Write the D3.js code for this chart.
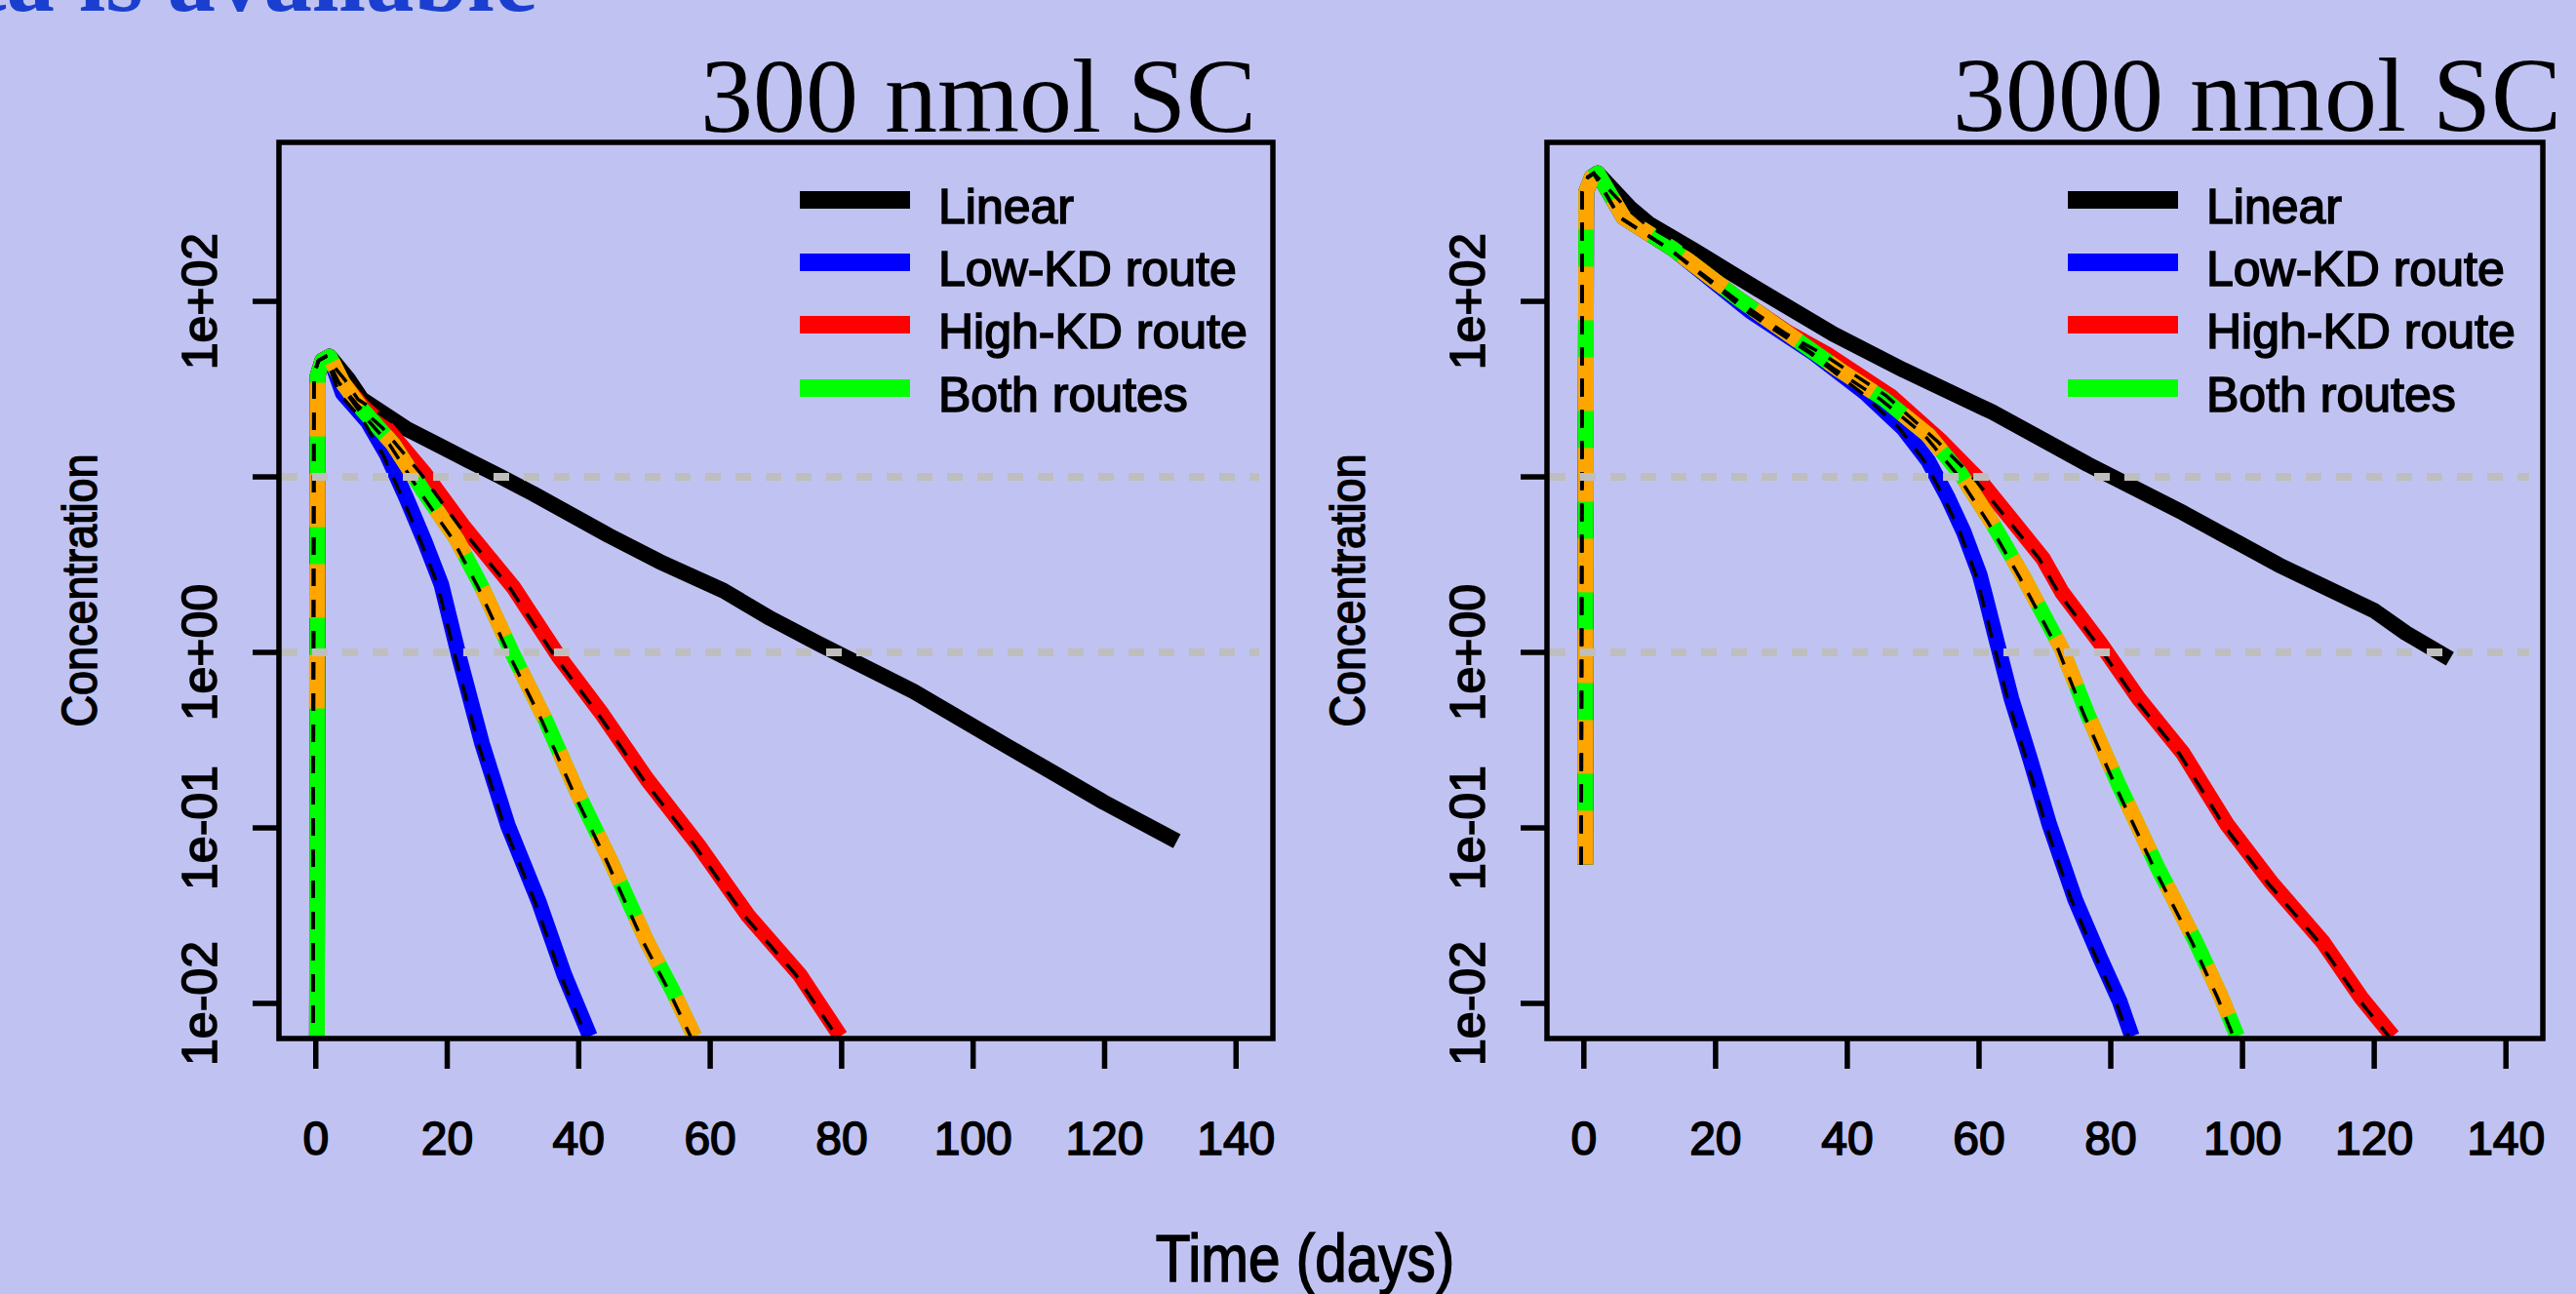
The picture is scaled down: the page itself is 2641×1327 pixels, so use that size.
<!DOCTYPE html>
<html><head><meta charset="utf-8">
<script src="https://cdn.jsdelivr.net/npm/d3@7"></script>
<style>html,body{margin:0;padding:0;background:#c0c3f2;overflow:hidden}</style>
</head><body><svg id="c" width="2641" height="1327"></svg>
<script>
// ---------------- data ----------------
const seriesNames = ["Linear", "Low-KD route", "High-KD route", "Both routes"];
const seriesColors = ["#000000", "#0000ff", "#ff0000", "#00ff00"];
const xTicks = [0, 20, 40, 60, 80, 100, 120, 140];
const yTicks = [0.01, 0.1, 1, 10, 100];
const yTickLabels = ["1e-02", "1e-01", "1e+00", "", "1e+02"];
const gridValues = [1, 10];
const panelTitles = ["300 nmol SC", "3000 nmol SC"];
const xAxisTitle = "Time (days)";
const yAxisTitle = "Concentration";
const headerText = "data is available";

// 300 nmol SC  — [time (days), concentration]
const linear300 = [[0.15,0.001],[0.3,38],[1,46],[2.1,48.5],[5,35.8],[7,27.7],[13.7,18.9],[18.5,15.3],[23.4,12.3],[28.2,10],[33,8.05],[44.6,4.63],[52.3,3.29],[62,2.25],[69.2,1.56],[76.5,1.12],[90.9,0.6],[105.4,0.289],[112.2,0.206],[119.9,0.14],[131,0.084]];
const lowKD300 = [[0.15,0.001],[0.3,38],[1,46],[2.1,48.5],[4.1,30],[7.9,20.6],[10.8,13.4],[13.7,7.7],[16.6,4.25],[19.1,2.44],[21.9,0.914],[25.3,0.302],[29.2,0.104],[34,0.0373],[37.8,0.0146],[41.7,0.0065]];
const highKD300 = [[0.15,0.001],[0.3,38],[1,46],[2.1,48.5],[4.1,34.4],[7,25.5],[10.8,18.9],[16.6,10.4],[22.4,5.26],[30.1,2.34],[36.9,0.955],[43.6,0.443],[50.4,0.189],[58.1,0.0805],[65.8,0.0315],[73.6,0.0146],[79.8,0.0065]];
const both300 = [[0.15,0.001],[0.3,38],[1,46],[2.1,48.5],[4.1,34.4],[7,24.4],[11.8,15.3],[16.6,8.05],[21.4,4.43],[25.3,2.34],[30.1,0.955],[35,0.407],[39.8,0.159],[44.6,0.0678],[50.4,0.0224],[54.3,0.0118],[57.6,0.0065]];
const bothAlt300 = [[0.15,0.48],[0.3,38],[1,46],[2.1,48.5],[4.1,34.4],[7,24.4],[11.8,15.3],[16.6,8.05],[21.4,4.43],[25.3,2.34],[30.1,0.955],[35,0.407],[39.8,0.159],[44.6,0.0678],[50.4,0.0224],[54.3,0.0118],[57.6,0.0065]];

// 3000 nmol SC
const linear3000 = [[0.2,0.062],[0.35,420],[1.2,510],[2.1,537],[6.95,343],[9.85,277],[16.6,197],[26.3,118],[37.9,65],[48.5,40.7],[62,23.4],[76.5,11.8],[91,6.24],[105.5,3.15],[113.2,2.29],[120,1.73],[124.8,1.29],[131.5,0.92]];
const lowKD3000 = [[0.2,0.062],[0.35,420],[1.2,510],[2.1,537],[6,302],[13.7,197],[23.4,100],[25.3,87.7],[35,50.4],[42.7,30.2],[48.5,18.9],[52.3,12.3],[55.2,7.7],[57.7,4.83],[60.1,2.77],[61,2.06],[63,1.04],[64.9,0.548],[67.8,0.244],[70.7,0.104],[74.6,0.039],[78.4,0.0181],[81.3,0.0104],[83.2,0.0065]];
const highKD3000 = [[0.2,0.062],[0.35,420],[1.2,510],[2.1,537],[6,302],[13.7,197],[23.4,104],[31.1,66],[36.9,50],[46.5,29],[54.3,15.9],[60.1,9.55],[64.9,5.73],[69.7,3.43],[72.6,2.2],[78.4,1.13],[84.2,0.548],[91,0.265],[97.7,0.104],[104.5,0.0482],[112.2,0.0224],[118,0.0108],[122.8,0.0065]];
const both3000 = [[0.2,0.062],[0.35,420],[1.2,510],[2.1,537],[6,302],[13.7,197],[23.4,104],[31.1,65],[38.8,40.7],[45.6,27.7],[52.3,17.3],[57.2,10.4],[62,5.48],[66.8,2.66],[72.6,1.04],[76.5,0.443],[81.3,0.173],[87.1,0.0597],[92.9,0.0224],[96.8,0.0108],[99.2,0.0065]];
const bothAlt3000 = [[0.2,0.062],[0.35,420],[1.2,510],[2.1,537],[6,302],[13.7,197],[23.4,104],[31.1,65],[38.8,40.7],[45.6,27.7],[52.3,17.3],[57.2,10.4],[62,5.48],[66.8,2.66],[72.6,1.04],[76.5,0.443],[81.3,0.173],[87.1,0.0597],[92.9,0.0224],[96.8,0.0108],[99.2,0.0065]];

const panelsData = [
  {title: panelTitles[0], series: [linear300, lowKD300, highKD300, both300], alt: bothAlt300},
  {title: panelTitles[1], series: [linear3000, lowKD3000, highKD3000, both3000], alt: bothAlt3000}
];

// ---------------- layout ----------------
const svg = d3.select("#c");
const W = 2641, H = 1327;
svg.append("rect").attr("width", W).attr("height", H).attr("fill", "#c0c3f2");

const SANS = "'Liberation Sans', Arial, Helvetica, sans-serif";
const SERIF = "'Liberation Serif', 'Times New Roman', Times, serif";
const TXT_STROKE = 1.6;

svg.append("text").attr("x", 551).attr("y", 11).attr("text-anchor", "end")
  .attr("font-family", SERIF).attr("font-weight", "bold").attr("font-size", 99)
  .attr("fill", "#1a3fd0").text(headerText);

const layouts = [
  {x0: 286, x1: 1305, titleX: 1288, titleY: 135},
  {x0: 1586, x1: 2607, titleX: 2626, titleY: 134}
];
const y0 = 146, y1 = 1065;

const lineW = 16;

function sansText(sel, size) {
  return sel.attr("font-family", SANS).attr("font-size", size).attr("fill", "#000")
    .attr("stroke", "#000").attr("stroke-width", TXT_STROKE);
}

panelsData.forEach((pd, pi) => {
  const L = layouts[pi];
  const x = d3.scaleLinear().domain([-5.6, 145.6]).range([L.x0, L.x1]);
  const y = d3.scaleLog().domain([Math.pow(10, -2.2), Math.pow(10, 2.906)]).range([y1, y0]);
  const g = svg.append("g");

  const clipId = "clip" + pi;
  svg.append("defs").append("clipPath").attr("id", clipId)
    .append("rect").attr("x", L.x0 + 2).attr("y", y0 + 2)
    .attr("width", L.x1 - L.x0 - 4).attr("height", y1 - y0 - 4);

  const line = d3.line().x(d => x(d[0])).y(d => y(Math.max(d[1], 1e-6)));
  const plot = g.append("g").attr("clip-path", `url(#${clipId})`);

  // thick coloured curves
  pd.series.forEach((s, i) => {
    plot.append("path").datum(s).attr("d", line)
      .attr("fill", "none").attr("stroke", seriesColors[i])
      .attr("stroke-width", lineW).attr("stroke-linejoin", "round");
  });
  // orange dashed alternative for both routes
  plot.append("path").datum(pd.alt).attr("d", line)
    .attr("fill", "none").attr("stroke", "#ffa500")
    .attr("stroke-width", lineW).attr("stroke-dasharray", "55,38")
    .attr("stroke-linejoin", "round");
  // thin black dashed overlays
  pd.series.forEach((s, i) => {
    plot.append("path").datum(s).attr("d", line)
      .attr("transform", "translate(-4,0)")
      .attr("fill", "none").attr("stroke", "#000")
      .attr("stroke-width", 3.5).attr("stroke-dasharray", "18,14");
  });

  // grid lines
  g.selectAll(".grid").data(gridValues).enter().append("line")
    .attr("x1", L.x0 + 3).attr("x2", L.x1 - 14)
    .attr("y1", d => y(d)).attr("y2", d => y(d))
    .attr("stroke", "#bebebe").attr("stroke-width", 8).attr("stroke-dasharray", "16,15");

  // box
  g.append("rect").attr("x", L.x0).attr("y", y0).attr("width", L.x1 - L.x0).attr("height", y1 - y0)
    .attr("fill", "none").attr("stroke", "#000").attr("stroke-width", 5.5);

  // y ticks & labels
  g.selectAll(".yt").data(yTicks).enter().append("line")
    .attr("x1", L.x0 - 27).attr("x2", L.x0).attr("y1", d => y(d)).attr("y2", d => y(d))
    .attr("stroke", "#000").attr("stroke-width", 5.5);
  sansText(g.selectAll(".yl").data(yTicks).enter().append("text")
    .attr("transform", d => `translate(${L.x0 - 64},${y(d)}) rotate(-90)`)
    .attr("text-anchor", "middle"), 50).text((d, i) => yTickLabels[i]);

  // x ticks & labels
  g.selectAll(".xt").data(xTicks).enter().append("line")
    .attr("x1", d => x(d)).attr("x2", d => x(d)).attr("y1", y1).attr("y2", y1 + 31)
    .attr("stroke", "#000").attr("stroke-width", 5.5);
  sansText(g.selectAll(".xl").data(xTicks).enter().append("text")
    .attr("x", d => x(d)).attr("y", 1184)
    .attr("text-anchor", "middle"), 48).text(d => d);

  // y axis title
  sansText(g.append("text")
    .attr("transform", `translate(${L.x0 - 187},${(y0 + y1) / 2}) rotate(-90) scale(0.9,1)`)
    .attr("text-anchor", "middle"), 50).text(yAxisTitle);

  // panel title
  g.append("text").attr("x", L.titleX).attr("y", L.titleY).attr("text-anchor", "end")
    .attr("font-family", SERIF).attr("font-size", 108).attr("fill", "#000").text(pd.title);

  // legend
  const legY = [205, 269, 333, 398];
  seriesNames.forEach((nm, i) => {
    g.append("line").attr("x1", L.x0 + 534).attr("x2", L.x0 + 647)
      .attr("y1", legY[i]).attr("y2", legY[i])
      .attr("stroke", seriesColors[i]).attr("stroke-width", 18);
    sansText(g.append("text").attr("x", L.x0 + 676).attr("y", legY[i] + 24), 50).text(nm);
  });
});

sansText(svg.append("text").attr("transform", "translate(1338,1314) scale(0.86,1)")
  .attr("text-anchor", "middle"), 68).text(xAxisTitle);
</script>
</body></html>
